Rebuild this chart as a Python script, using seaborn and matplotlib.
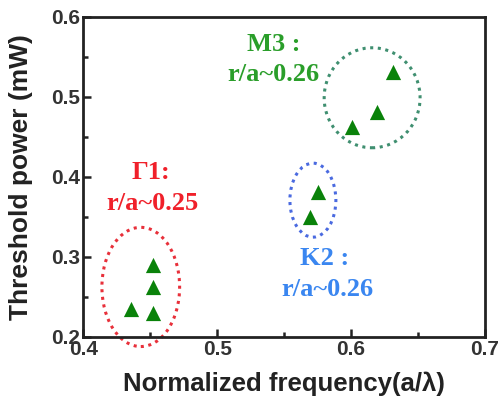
import numpy as np
import pandas as pd
import matplotlib
matplotlib.use("Agg")
import matplotlib.pyplot as plt
from matplotlib.patches import Ellipse
from matplotlib.ticker import MultipleLocator
import seaborn as sns

# data
groups = ["G1", "G1", "G1", "G1", "K2", "K2", "M3", "M3", "M3"]
freq = [0.436, 0.452, 0.452, 0.452, 0.575, 0.569, 0.601, 0.619, 0.631]
power = [0.235, 0.29, 0.262, 0.23, 0.381, 0.35, 0.462, 0.481, 0.531]

df = pd.DataFrame({"group": groups, "freq": freq, "power": power})

sns.set_style("ticks")
plt.rcParams["font.family"] = ["Liberation Sans", "DejaVu Sans"]

fig = plt.figure(figsize=(4.98, 4.04), dpi=100)
ax = fig.add_axes([0.167, 0.166, 0.807, 0.792])

sns.scatterplot(data=df, x="freq", y="power", marker="^", s=120,
                color="#0a820a", edgecolor="#0a820a", linewidth=0, ax=ax, legend=False)

# dotted circles round each group
dots = (0, (1, 1.5))
ax.add_patch(Ellipse((0.443, 0.2625), 0.058, 0.149, fill=False, clip_on=False,
                     edgecolor="#e8303a", linestyle=dots, linewidth=2.2))
ax.add_patch(Ellipse((0.5715, 0.371), 0.0343, 0.0925, fill=False, clip_on=False,
                     edgecolor="#4a6ae0", linestyle=dots, linewidth=2.2))
ax.add_patch(Ellipse((0.6157, 0.499), 0.0716, 0.125, fill=False, clip_on=False,
                     edgecolor="#3f8f70", linestyle=dots, linewidth=2.2))

serif = dict(family=["Liberation Serif", "DejaVu Serif"], fontweight="bold",
             fontsize=19, ha="center", va="center_baseline")
ax.text(0.4507, 0.409, "Γ1:", color="#f0202a", **serif)
ax.text(0.4515, 0.370, "r/a~0.25", color="#f0202a", **serif)
ax.text(0.5425, 0.569, "M3 :", color="#2a9e2a", **serif)
ax.text(0.5418, 0.531, "r/a~0.26", color="#2a9e2a", **serif)
ax.text(0.5799, 0.301, "K2 :", color="#3a86f0", **serif)
ax.text(0.582, 0.2625, "r/a~0.26", color="#3a86f0", **serif)

ax.set_xlim(0.4, 0.7)
ax.set_ylim(0.2, 0.6)
ax.xaxis.set_major_locator(MultipleLocator(0.1))
ax.xaxis.set_minor_locator(MultipleLocator(0.05))
ax.yaxis.set_major_locator(MultipleLocator(0.1))
ax.yaxis.set_minor_locator(MultipleLocator(0.05))
ax.tick_params(which="both", direction="in", width=1.8, color="#222222")
ax.tick_params(which="major", length=6, labelsize=15, pad=2)
ax.tick_params(which="minor", length=3.5)
for lab in ax.get_xticklabels() + ax.get_yticklabels():
    lab.set_fontweight("bold")
    lab.set_color("#333333")
for sp in ax.spines.values():
    sp.set_visible(True)
    sp.set_linewidth(2)
    sp.set_color("#222222")

ax.set_xlabel("Normalized frequency(a/λ)", fontsize=18.5, fontweight="bold",
              color="#222222", labelpad=9)
ax.set_ylabel("Threshold power (mW)", fontsize=19, fontweight="bold",
              color="#222222", labelpad=13)

fig.savefig("out.png", dpi=100)
